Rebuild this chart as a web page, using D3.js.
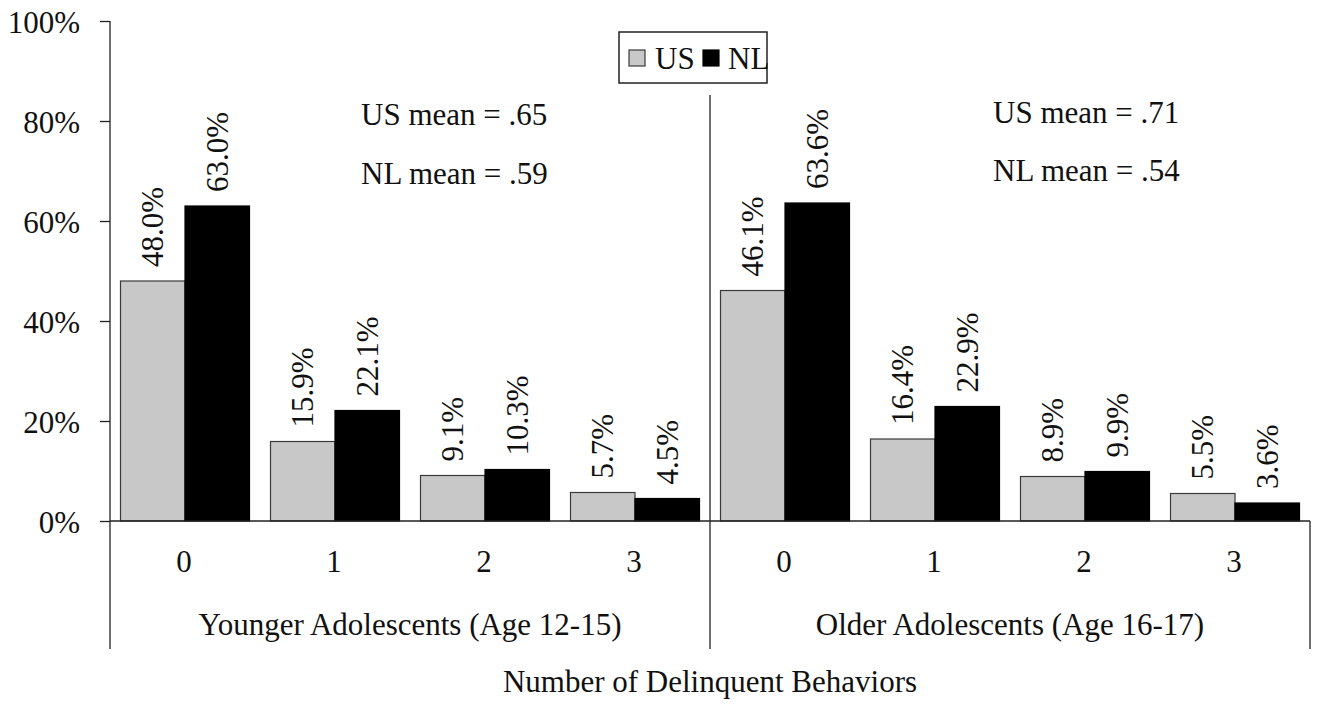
<!DOCTYPE html>
<html>
<head>
<meta charset="utf-8">
<script src="https://cdn.jsdelivr.net/npm/d3@7/dist/d3.min.js"></script>
<style>
  html, body { margin: 0; padding: 0; background: #fff; }
  svg { display: block; }
  text { font-family: "Liberation Serif", "Times New Roman", serif; fill: #111; }
</style>
</head>
<body>
<svg id="chart" width="1318" height="704"></svg>
<script>
// ---- data ----
const groups = ["Younger Adolescents (Age 12-15)", "Older Adolescents (Age 16-17)"];
const counts = ["0", "1", "2", "3"];
const series = ["US", "NL"];
const usYounger = [48.0, 15.9, 9.1, 5.7];
const nlYounger = [63.0, 22.1, 10.3, 4.5];
const usOlder = [46.1, 16.4, 8.9, 5.5];
const nlOlder = [63.6, 22.9, 9.9, 3.6];
const yTicks = [0, 20, 40, 60, 80, 100];
const meanLabels = [
  ["US mean = .65", "NL mean = .59"],
  ["US mean = .71", "NL mean = .54"]
];
const xTitle = "Number of Delinquent Behaviors";

const values = [
  { US: usYounger, NL: nlYounger },
  { US: usOlder, NL: nlOlder }
];

// ---- layout ----
const plotLeft = 110, plotRight = 1310, plotTop = 21, plotBase = 521, bottomLine = 649;
const fontSize = 31;
const colors = { US: "#c8c8c8", NL: "#000000" };
const strokes = { US: "#3a3a3a", NL: "#000000" };

const svg = d3.select("#chart");

const x0 = d3.scaleBand().domain(groups).range([plotLeft, plotRight]).padding(0);
const x1 = d3.scaleBand().domain(counts).range([0, x0.bandwidth()])
  .paddingInner(0.14).paddingOuter(0.07);
const x2 = d3.scaleBand().domain(series).range([0, x1.bandwidth()]).padding(0);
const y = d3.scaleLinear().domain([0, 100]).range([plotBase, plotTop]);

// bars
const flat = [];
groups.forEach((g, gi) => {
  counts.forEach((c, ci) => {
    series.forEach(s => {
      flat.push({ g, c, s, v: values[gi][s][ci] });
    });
  });
});

const barG = svg.append("g");
barG.selectAll("rect").data(flat).join("rect")
  .attr("x", d => x0(d.g) + x1(d.c) + x2(d.s))
  .attr("y", d => y(d.v))
  .attr("width", x2.bandwidth())
  .attr("height", d => y(0) - y(d.v))
  .attr("fill", d => colors[d.s])
  .attr("stroke", d => strokes[d.s])
  .attr("stroke-width", 1.2);

// value labels
barG.selectAll("text").data(flat).join("text")
  .attr("transform", d => {
    const cx = x0(d.g) + x1(d.c) + x2(d.s) + x2.bandwidth() / 2 + 10.5;
    return `translate(${cx},${y(d.v) - 14}) rotate(-90)`;
  })
  .attr("text-anchor", "start")
  .attr("font-size", fontSize)
  .text(d => d.v.toFixed(1) + "%");

// y axis
const yAxis = d3.axisLeft(y).tickValues(yTicks).tickFormat(d => d + "%")
  .tickSize(10).tickSizeOuter(0).tickPadding(20);
const yg = svg.append("g").attr("transform", `translate(${plotLeft},0)`).call(yAxis);
yg.select(".domain").remove();
yg.selectAll(".tick line").attr("stroke", "#222").attr("stroke-width", 1.3);
yg.selectAll(".tick text").attr("font-size", fontSize)
  .attr("font-family", "Liberation Serif, Times New Roman, serif")
  .attr("fill", "#111").attr("dy", "0.36em");

// axis lines
const lines = svg.append("g").attr("stroke", "#222").attr("stroke-width", 1.3);
lines.append("line").attr("x1", plotLeft).attr("x2", plotLeft).attr("y1", y(100)).attr("y2", bottomLine);
lines.append("line").attr("x1", plotLeft).attr("x2", plotRight).attr("y1", y(0)).attr("y2", y(0));
lines.append("line").attr("x1", plotRight).attr("x2", plotRight).attr("y1", y(0)).attr("y2", bottomLine);
// group divider
const divX = x0(groups[1]);
lines.append("line").attr("x1", divX).attr("x2", divX).attr("y1", 95).attr("y2", bottomLine);

// category labels
groups.forEach(g => {
  svg.append("g").selectAll("text").data(counts).join("text")
    .attr("x", c => x0(g) + x1(c) + x1.bandwidth() / 2 - 1)
    .attr("y", 572)
    .attr("text-anchor", "middle")
    .attr("font-size", fontSize)
    .text(c => c);
});

// group labels
svg.append("g").selectAll("text").data(groups).join("text")
  .attr("x", g => x0(g) + x0.bandwidth() / 2)
  .attr("y", 635)
  .attr("text-anchor", "middle")
  .attr("font-size", fontSize)
  .text(g => g);

// x title
svg.append("text")
  .attr("x", (plotLeft + plotRight) / 2)
  .attr("y", 692)
  .attr("text-anchor", "middle")
  .attr("font-size", fontSize)
  .text(xTitle);

// mean annotations
const annPos = [[361, 125, 184], [993, 123, 181]];
meanLabels.forEach((pair, i) => {
  svg.append("text").attr("x", annPos[i][0]).attr("y", annPos[i][1])
    .attr("font-size", fontSize).text(pair[0]);
  svg.append("text").attr("x", annPos[i][0]).attr("y", annPos[i][2])
    .attr("font-size", fontSize).text(pair[1]);
});

// legend
const lg = svg.append("g");
lg.append("rect").attr("x", 619).attr("y", 32).attr("width", 148).attr("height", 51)
  .attr("fill", "#fff").attr("stroke", "#222").attr("stroke-width", 1.5);
const legItems = [
  { s: "US", sx: 629, tx: 655 },
  { s: "NL", sx: 703, tx: 728 }
];
legItems.forEach(it => {
  lg.append("rect").attr("x", it.sx).attr("y", 50).attr("width", 16).attr("height", 16)
    .attr("fill", colors[it.s]).attr("stroke", strokes[it.s]).attr("stroke-width", 1.2);
  lg.append("text").attr("x", it.tx).attr("y", 69).attr("font-size", fontSize).text(it.s);
});
</script>
</body>
</html>
